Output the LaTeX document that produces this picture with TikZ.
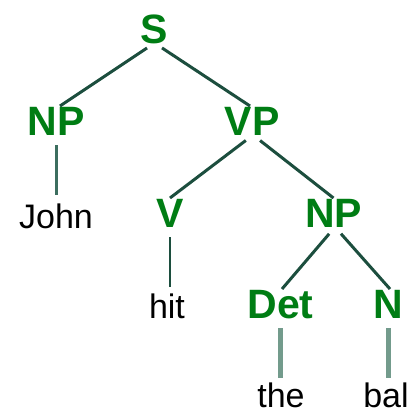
\documentclass[tikz,border=0pt]{standalone}
\usepackage{fontspec}
\setmainfont{Liberation Sans}
\definecolor{labgreen}{RGB}{0,125,20}
\definecolor{edgedark}{RGB}{28,78,62}
\definecolor{edgemid}{RGB}{60,110,95}
\definecolor{edgelight}{RGB}{115,155,140}
\begin{document}
\begin{tikzpicture}[x=1pt,y=-1pt,
  lab/.style={font=\fontsize{41}{41}\selectfont\bfseries, text=labgreen, inner sep=0pt, outer sep=0pt, text height=29pt, text depth=0pt, anchor=base},
  word/.style={font=\fontsize{34}{34}\selectfont, text=black, inner sep=0pt, outer sep=0pt, text height=25pt, text depth=0pt, anchor=base},
  br/.style={draw=edgedark, line width=3pt, shorten <=9pt},
  leafedge/.style={line width=3pt, shorten <=10pt, shorten >=8pt}]
\useasboundingbox (0,0) rectangle (409,415);
\node[lab] (S) at (154.5,43) {S};
\node[lab] (NP1) at (56,135) {NP};
\node[lab] (VP) at (252,135) {VP};
\node[word] (John) at (56,228) {John};
\node[lab] (V) at (170,227) {V};
\node[lab] (NP2) at (333.5,227) {NP};
\node[word] (hit) at (167,318) {hit};
\node[lab] (Det) at (280.5,318) {Det};
\node[lab] (N) at (388.5,318) {N};
\node[word] (the) at (281,407) {the};
\node[word] (bal) at (386,407) {bal};
\draw[br] (S.south) -- ([xshift=4pt]NP1.north);
\draw[br] (S.south) -- ([xshift=-2pt]VP.north);
\draw[br] ([xshift=1pt]VP.south) -- (V.north);
\draw[br] ([xshift=1pt]VP.south) -- (NP2.north);
\draw[br] ([xshift=1.5pt]NP2.south) -- ([xshift=1.5pt]Det.north);
\draw[br] ([xshift=1.5pt]NP2.south) -- ([xshift=1.5pt]N.north);
\draw[leafedge, draw=edgemid] (NP1.south) -- (NP1.south |- John.north);
\draw[leafedge, draw=edgedark, line width=2.5pt, shorten >=6pt] (V.south) -- (V.south |- hit.north);
\draw[leafedge, draw=edgelight, line width=5.5pt, shorten >=4pt] (Det.south) -- (Det.south |- the.north);
\draw[leafedge, draw=edgelight, line width=5.5pt, shorten >=4pt] (N.south) -- (N.south |- bal.north);
\end{tikzpicture}
\end{document}
